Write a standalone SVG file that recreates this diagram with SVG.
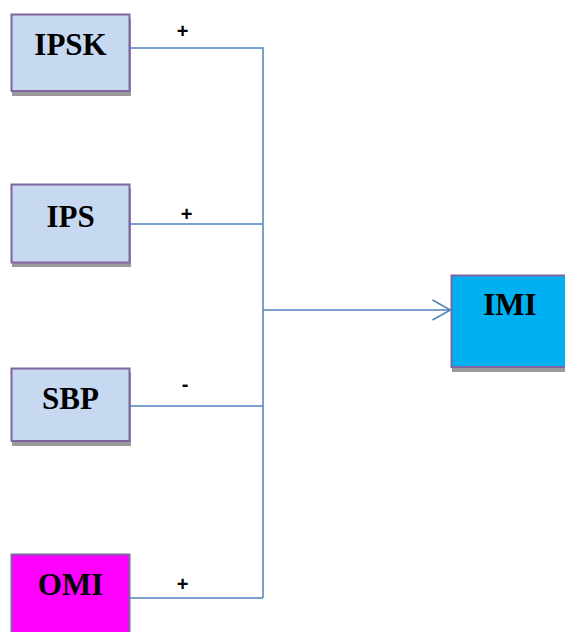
<svg xmlns="http://www.w3.org/2000/svg" width="565" height="632" viewBox="0 0 565 632">
  <style>
    .box { stroke: #8064a2; stroke-width: 2; }
    .light { fill: #c6d9f1; }
    .shadow { fill: #9a9a9a; }
    .name { font-family: "Liberation Serif", "Times New Roman", serif; font-weight: bold; font-size: 31px; fill: #000; text-anchor: middle; }
    .sign { font-family: "Liberation Sans", Arial, sans-serif; font-weight: bold; font-size: 20px; fill: #000; text-anchor: middle; }
    .wire { fill: none; stroke: #4f81bd; stroke-width: 1.5; }
  </style>
  <defs>
    <marker id="open-arrow" viewBox="0 0 20 22" refX="19" refY="11" markerWidth="20" markerHeight="22" markerUnits="userSpaceOnUse" orient="auto">
      <path d="M1,1 L19,11 L1,21" fill="none" stroke="#4f81bd" stroke-width="1.5"/>
    </marker>
  </defs>

  <rect width="565" height="632" fill="#fff"/>

  <g id="IPSK">
    <rect class="shadow" x="12" y="19" width="119" height="77"/>
    <rect class="box light" x="11.5" y="14.5" width="118" height="76.5"/>
    <text class="name" x="70.5" y="55">IPSK</text>
  </g>

  <g id="IPS">
    <rect class="shadow" x="12" y="189" width="119" height="78"/>
    <rect class="box light" x="11.5" y="184.5" width="118" height="78"/>
    <text class="name" x="70.5" y="227">IPS</text>
  </g>

  <g id="SBP">
    <rect class="shadow" x="12" y="373" width="119" height="73"/>
    <rect class="box light" x="11.5" y="368.5" width="118" height="72.5"/>
    <text class="name" x="70.5" y="409">SBP</text>
  </g>

  <g id="OMI">
    <rect class="box" fill="#ff00ff" x="11.5" y="554.5" width="118" height="90"/>
    <text class="name" x="70.5" y="595">OMI</text>
  </g>

  <g id="IMI">
    <rect class="shadow" x="452" y="279" width="120" height="93"/>
    <rect class="box" fill="#00b0f0" x="451.5" y="275.5" width="120" height="91.5"/>
    <text class="name" x="510" y="315">IMI</text>
  </g>

  <g id="connectors">
    <path class="wire" d="M130,48 H263 V598"/>
    <path class="wire" d="M130,224 H263"/>
    <path class="wire" d="M130,406 H263"/>
    <path class="wire" d="M130,598 H263"/>
    <path class="wire" d="M263,310 H450.5" marker-end="url(#open-arrow)"/>
    <text class="sign" x="182.5" y="38">+</text>
    <text class="sign" x="186.5" y="221">+</text>
    <text class="sign" x="185" y="391">-</text>
    <text class="sign" x="182.5" y="591">+</text>
  </g>
</svg>
